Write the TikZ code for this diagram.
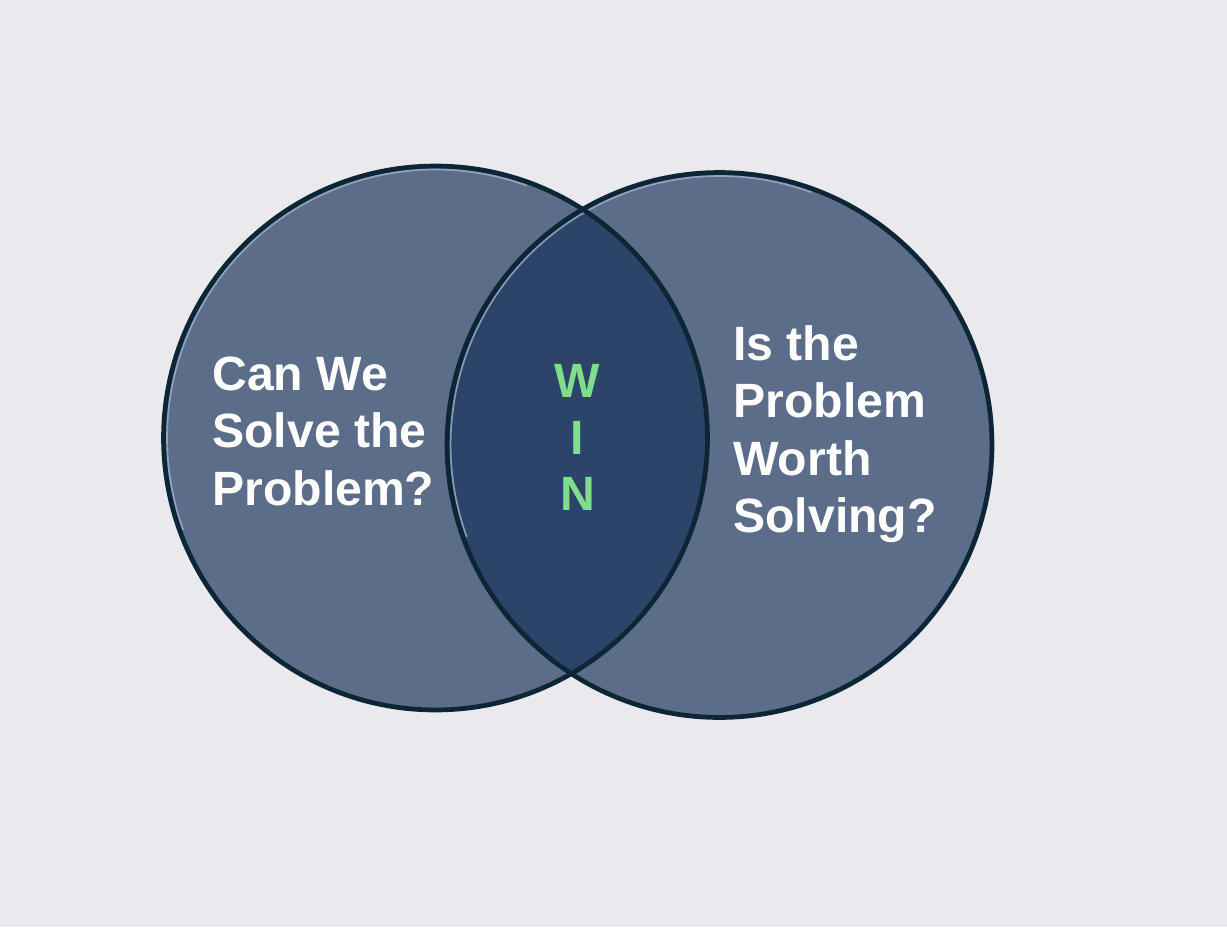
\documentclass[tikz,border=0pt]{standalone}
\usepackage{fontspec}
\setmainfont{Liberation Sans}
\usetikzlibrary{calc}
\definecolor{bgc}{HTML}{EAE9EE}
\definecolor{circfill}{HTML}{5C6D8A}
\definecolor{interfill}{HTML}{2B4468}
\definecolor{rim}{HTML}{0D2636}
\definecolor{hilite}{HTML}{9DB0CE}
\definecolor{wingreen}{HTML}{80DD8B}
\tikzset{
  lbl/.style={anchor=base west, inner sep=0pt, text=white, font=\fontsize{27.4pt}{32.6pt}\selectfont\bfseries},
  winl/.style={anchor=base, inner sep=0pt, text=wingreen, font=\fontsize{27.4pt}{32.6pt}\selectfont\bfseries},
  rimline/.style={draw=rim, line width=2.7pt},
  hiline/.style={draw=hilite, line width=1pt, opacity=0.8},
}
\begin{document}
\begin{tikzpicture}[x=0.02cm,y=-0.02cm]
\fill[bgc] (0,0) rectangle (1227,927);
\useasboundingbox (0,0) rectangle (1227,927);
\coordinate (cl) at (435.5,438);
\coordinate (cr) at (719.5,445);
% fills
\fill[circfill] (cl) circle [radius=5.44cm];
\fill[circfill] (cr) circle [radius=5.45cm];
\begin{scope}
  \clip (cl) circle [radius=5.44cm];
  \fill[interfill] (cr) circle [radius=5.45cm];
\end{scope}
% highlights
\draw[hiline] ($(cl)+(70:5.37cm)$) arc[start angle=70, end angle=200, radius=5.37cm];
\draw[hiline] ($(cr)+(70:5.38cm)$) arc[start angle=70, end angle=200, radius=5.38cm];
% rims
\draw[rimline] (cl) circle [radius=5.44cm];
\draw[rimline] (cr) circle [radius=5.45cm];
% texts
\node[lbl] (l1) at (212,390) {Can We};
\node[lbl] (l2) at (212,447.5) {Solve the};
\node[lbl] (l3) at (212,505) {Problem?};
\node[lbl] (r1) at (733,360) {Is the};
\node[lbl] (r2) at (733,417.5) {Problem};
\node[lbl] (r3) at (733,475) {Worth};
\node[lbl] (r4) at (733,532.5) {Solving?};
\node[winl] (w1) at (577.5,397) {W};
\node[winl] (w2) at (577.5,454) {I};
\node[winl] (w3) at (577.5,510.5) {N};
\end{tikzpicture}
\end{document}
